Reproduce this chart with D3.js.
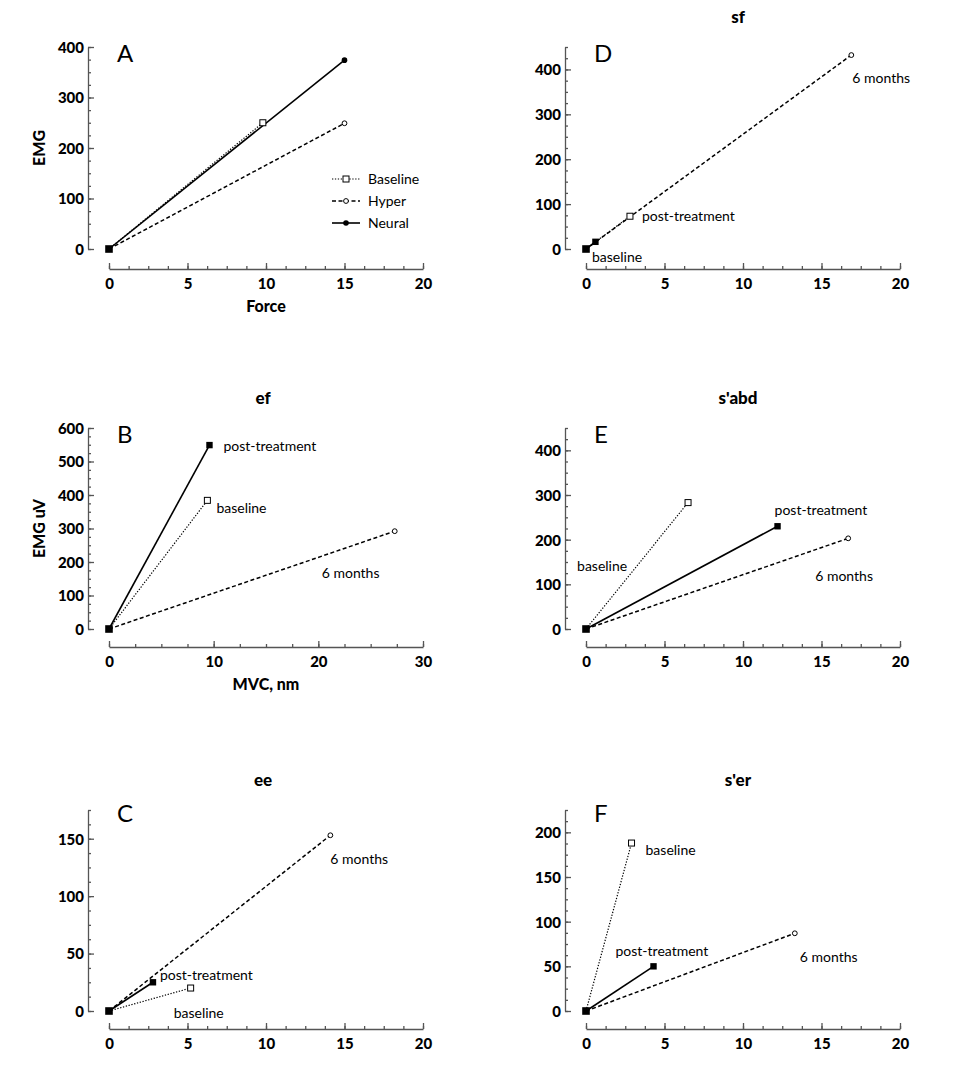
<!DOCTYPE html>
<html><head><meta charset="utf-8">
<script src="https://cdn.jsdelivr.net/npm/d3@7"></script>
<style>
body{margin:0;background:#fff;}
svg{display:block;font-family:Lato,"Open Sans","DejaVu Sans",sans-serif;}
.tick text{font-family:Lato,"Open Sans",sans-serif;font-weight:900;font-size:15px;fill:#000;}
</style></head><body>
<svg id="chart" width="965" height="1074"></svg>
<script>
// ---- data (panel order: A, D, B, E, C, F) ----
const panelLetters = ["A", "D", "B", "E", "C", "F"];
const panelTitles  = ["", "sf", "ef", "s'abd", "ee", "s'er"];
const xTitles      = ["Force", "", "MVC, nm", "", "", ""];
const yTitles      = ["EMG", "", "EMG uV", "", "", ""];
// series 1: baseline (dotted, open square)
const baselineX = [9.8, 2.8, 9.4, 6.5, 5.2, 2.9];
const baselineY = [250, 73, 384, 283, 20, 188];
// series 2: post-treatment (solid, filled square) / Neural in A (filled circle)
const postX = [15, 0.6, 9.6, 12.2, 2.8, 4.3];
const postY = [374, 16, 549, 230, 25, 50];
// series 3: 6 months (dashed, open circle) / Hyper in A
const sixX = [15, 16.9, 27.3, 16.7, 14.1, 13.3];
const sixY = [249, 432, 292, 203, 153, 87];
// axes
const xMax   = [20, 20, 30, 20, 20, 20];
const xMajor = [5, 5, 10, 5, 5, 5];
const xMinor = [1.25, 1.25, 2.5, 1.25, 1.25, 1.25];
const yMax   = [400, 450, 600, 450, 175, 225];
const yMajor = [100, 100, 100, 100, 50, 50];
const yMinor = [25, 25, 25, 25, 12.5, 12.5];
// legend (panel A)
const legendNames = ["Baseline", "Hyper", "Neural"];
// annotation texts per panel: [series, text]
const annTexts = [
  [],
  [["six", "6 months"], ["base", "post-treatment"], ["origin", "baseline"]],
  [["post", "post-treatment"], ["base", "baseline"], ["six", "6 months"]],
  [["post", "post-treatment"], ["base", "baseline"], ["six", "6 months"]],
  [["six", "6 months"], ["post", "post-treatment"], ["base", "baseline"]],
  [["base", "baseline"], ["post", "post-treatment"], ["six", "6 months"]]
];

// ---- layout ----
const colX0 = [109, 586], colW = 314;
const rowTop = [47, 428, 810], rowBot = [249, 629, 1011];
const xAxisOff = [20, 18, 18];
// label offsets (px) relative to anchor point
const annOffsets = [
  [],
  [[1, 28], [12, 5], [6, 13]],
  [[14, 6], [9, 13], [-73, 47]],
  [[-3, -11], [-111, 68], [-33, 43]],
  [[0, 29], [7, -2], [-17, 30]],
  [[14, 12], [-38, -10], [5, 29]]
];

const svg = d3.select("#chart");
const axisColor = "#555";

panelLetters.forEach((letter, i) => {
  const col = i % 2, row = Math.floor(i / 2);
  const x = d3.scaleLinear().domain([0, xMax[i]]).range([colX0[col], colX0[col] + colW]);
  const y = d3.scaleLinear().domain([0, yMax[i]]).range([rowBot[row], rowTop[row]]);
  const g = svg.append("g");
  const yAxisX = colX0[col] - 21;
  const xAxisY = rowBot[row] + xAxisOff[row];

  // y axis
  const yMinorTicks = d3.range(0, yMax[i] + 1e-9, yMinor[i]);
  const yMajorTicks = d3.range(0, yMax[i] + 1e-9, yMajor[i]);
  const ya = g.append("g").attr("transform", `translate(${yAxisX},0)`)
    .call(d3.axisLeft(y).tickValues(yMajorTicks).tickSizeInner(-6).tickSizeOuter(0).tickPadding(4).tickFormat(d3.format("d")));
  const yb = g.append("g").attr("transform", `translate(${yAxisX},0)`)
    .call(d3.axisLeft(y).tickValues(yMinorTicks).tickSizeInner(-3).tickSizeOuter(0).tickFormat(""));
  yb.select(".domain").remove();
  // x axis
  const xMinorTicks = d3.range(0, xMax[i] + 1e-9, xMinor[i]);
  const xMajorTicks = d3.range(0, xMax[i] + 1e-9, xMajor[i]);
  const xa = g.append("g").attr("transform", `translate(0,${xAxisY})`)
    .call(d3.axisBottom(x).tickValues(xMajorTicks).tickSizeInner(-6).tickSizeOuter(0).tickPadding(9).tickFormat(d3.format("d")));
  const xb = g.append("g").attr("transform", `translate(0,${xAxisY})`)
    .call(d3.axisBottom(x).tickValues(xMinorTicks).tickSizeInner(-3).tickSizeOuter(0).tickFormat(""));
  xb.select(".domain").remove();
  [ya, yb, xa, xb].forEach(a => {
    a.selectAll("path,line").attr("stroke", axisColor).attr("stroke-width", 1.3);
  });
  ya.selectAll("text").attr("dy", "0.36em");

  // series
  const series = [
    {key: "base", pts: [[0, 0], [baselineX[i], baselineY[i]]], dash: "1.3,1.6", w: 1.2, marker: "openSquare"},
    {key: "six",  pts: [[0, 0], [sixX[i], sixY[i]]], dash: "4,2.5", w: 1.5, marker: "openCircle"},
    {key: "post", pts: [[0, 0], [postX[i], postY[i]]], dash: null, w: 1.6, marker: i === 0 ? "filledCircle" : "filledSquare"}
  ];
  const line = d3.line().x(d => x(d[0])).y(d => y(d[1]));
  series.forEach(s => {
    g.append("path").attr("d", line(s.pts)).attr("fill", "none").attr("stroke", "#000")
      .attr("stroke-width", s.w).attr("stroke-dasharray", s.dash);
  });
  function drawMarker(type, px, py) {
    if (type === "openSquare") g.append("rect").attr("x", px - 3).attr("y", py - 3).attr("width", 6).attr("height", 6).attr("fill", "#fff").attr("stroke", "#000").attr("stroke-width", 1);
    if (type === "filledSquare") g.append("rect").attr("x", px - 3.2).attr("y", py - 3.2).attr("width", 6.4).attr("height", 6.4).attr("fill", "#000");
    if (type === "openCircle") g.append("circle").attr("cx", px).attr("cy", py).attr("r", 2.4).attr("fill", "#fff").attr("stroke", "#000").attr("stroke-width", 1);
    if (type === "filledCircle") g.append("circle").attr("cx", px).attr("cy", py).attr("r", 2.8).attr("fill", "#000");
  }
  series.forEach(s => drawMarker(s.marker, x(s.pts[1][0]), y(s.pts[1][1])));
  // origin marker
  g.append("rect").attr("x", x(0) - 3.8).attr("y", y(0) - 3.8).attr("width", 7.6).attr("height", 7.6).attr("fill", "#000");

  // panel letter
  g.append("text").attr("x", colX0[col] + 8).attr("y", rowTop[row] + (row === 2 ? 12 : 15))
    .attr("font-size", 24).attr("fill", "#000").text(letter);
  // title
  if (panelTitles[i]) g.append("text").attr("x", col === 0 ? 263 : 738).attr("y", rowTop[row] - 24)
    .attr("text-anchor", "middle").attr("font-size", 17).attr("font-weight", 900).text(panelTitles[i]);
  if (xTitles[i]) g.append("text").attr("x", 266).attr("y", xAxisY + 43)
    .attr("text-anchor", "middle").attr("font-size", 16).attr("font-weight", 900).text(xTitles[i]);
  if (yTitles[i]) g.append("text").attr("transform", `translate(45,${(rowTop[row] + rowBot[row]) / 2}) rotate(-90)`)
    .attr("text-anchor", "middle").attr("font-size", 16).attr("font-weight", 900).text(yTitles[i]);

  // annotations
  const anchors = {
    origin: [0, 0],
    base: [baselineX[i], baselineY[i]],
    post: [postX[i], postY[i]],
    six: [sixX[i], sixY[i]]
  };
  annTexts[i].forEach((a, j) => {
    const p = anchors[a[0]];
    g.append("text").attr("x", x(p[0]) + annOffsets[i][j][0]).attr("y", y(p[1]) + annOffsets[i][j][1])
      .attr("font-size", 14).attr("fill", "#000").text(a[1]);
  });

  // legend in A
  if (i === 0) {
    const styles = [series[0], series[1], series[2]];
    legendNames.forEach((name, k) => {
      const ly = 179 + k * 22;
      const s = styles[k];
      g.append("line").attr("x1", 332).attr("x2", 360).attr("y1", ly).attr("y2", ly)
        .attr("stroke", "#000").attr("stroke-width", s.w).attr("stroke-dasharray", s.dash);
      drawMarker(s.marker, 346, ly);
      g.append("text").attr("x", 368).attr("y", ly + 5).attr("font-size", 14).text(name);
    });
  }
});
</script>
</body></html>
